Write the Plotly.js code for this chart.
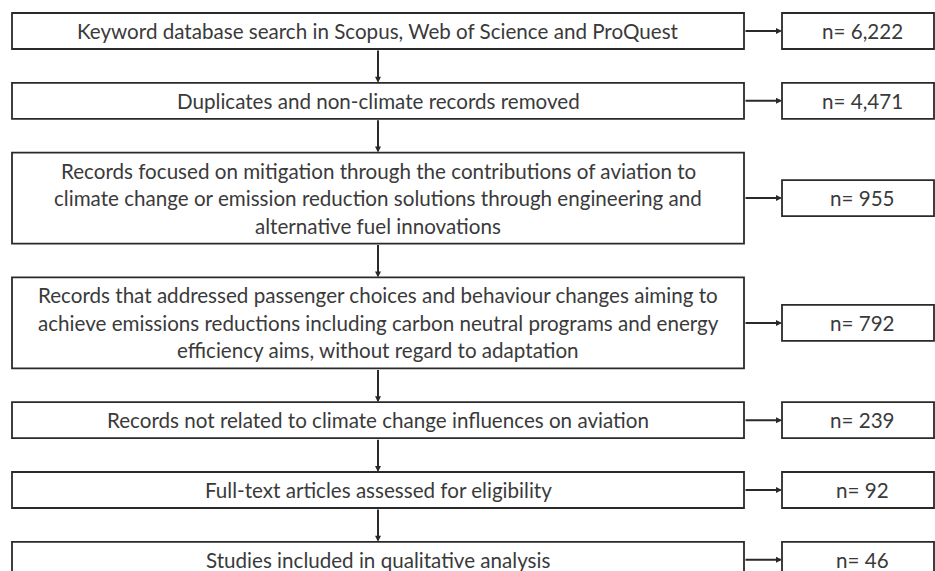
<!DOCTYPE html>
<html>
<head>
<meta charset="utf-8">
<script src="https://cdn.plot.ly/plotly-3.0.1.min.js"></script>
<style>html,body{margin:0;padding:0;background:#fff;}#chart{width:935px;height:571px;}</style>
</head>
<body>
<div id="chart"></div>
<script>
// ---- data ----
const stepLines = [
  ["Keyword database search in Scopus, Web of Science and ProQuest"],
  ["Duplicates and non-climate records removed"],
  ["Records focused on mitigation through the contributions of aviation to",
   "climate change or emission reduction solutions through engineering and",
   "alternative fuel innovations"],
  ["Records that addressed passenger choices and behaviour changes aiming to",
   "achieve emissions reductions including carbon neutral programs and energy",
   "efficiency aims, without regard to adaptation"],
  ["Records not related to climate change influences on aviation"],
  ["Full-text articles assessed for eligibility"],
  ["Studies included in qualitative analysis"]
];
const counts = [6222, 4471, 955, 792, 239, 92, 46];
const countLabels = ["n= 6,222", "n= 4,471", "n= 955", "n= 792", "n= 239", "n= 92", "n= 46"];

// ---- layout geometry ----
const W = 935, H = 571;
const leftX0 = 12, leftX1 = 744, rightX0 = 782, rightX1 = 934;
const top0 = 13, gap = 33.8, lineH = 27.5, oneLineH = 36, rightH = 36;
const FONT = "Lato, 'Open Sans', sans-serif";
const FS = 20.6;
const TXT = "#3a3a3a", EDGE = "#2a2a2a";

const shapes = [], annotations = [];
let y = top0;
const cx = (leftX0 + leftX1) / 2, rcx = (rightX0 + rightX1) / 2 + 4;
stepLines.forEach((lines, i) => {
  const h = oneLineH + (lines.length - 1) * lineH;
  const y0 = y, y1 = y + h, cy = (y0 + y1) / 2;
  shapes.push({type: "rect", xref: "x", yref: "y", x0: leftX0, x1: leftX1, y0: y0, y1: y1,
               line: {color: EDGE, width: 1.8}, fillcolor: "rgba(0,0,0,0)"});
  lines.forEach((t, k) => {
    annotations.push({x: cx, y: cy + (k - (lines.length - 1) / 2) * lineH, xref: "x", yref: "y",
      text: t, showarrow: false, xanchor: "center", yanchor: "middle",
      font: {family: FONT, size: FS, color: TXT}});
  });
  // right count box
  shapes.push({type: "rect", xref: "x", yref: "y", x0: rightX0, x1: rightX1,
               y0: cy - rightH / 2, y1: cy + rightH / 2,
               line: {color: EDGE, width: 1.8}, fillcolor: "rgba(0,0,0,0)"});
  annotations.push({x: rcx, y: cy, xref: "x", yref: "y", text: countLabels[i], showarrow: false,
    xanchor: "center", yanchor: "middle", font: {family: FONT, size: FS, color: TXT}});
  // horizontal arrow
  annotations.push({x: rightX0, y: cy, ax: leftX1, ay: cy, xref: "x", yref: "y", axref: "x", ayref: "y",
    text: "", showarrow: true, arrowhead: 2, arrowsize: 0.6, arrowwidth: 2, arrowcolor: EDGE, standoff: 0});
  // vertical arrow to next box
  if (i < stepLines.length - 1) {
    annotations.push({x: cx, y: y1 + gap, ax: cx, ay: y1, xref: "x", yref: "y", axref: "x", ayref: "y",
      text: "", showarrow: true, arrowhead: 2, arrowsize: 0.6, arrowwidth: 2, arrowcolor: EDGE, standoff: 0});
  }
  y = y1 + gap;
});

const layout = {
  width: W, height: H, margin: {l: 0, r: 0, t: 0, b: 0},
  paper_bgcolor: "#fff", plot_bgcolor: "#fff", showlegend: false,
  xaxis: {range: [0, W], visible: false, fixedrange: true},
  yaxis: {range: [H, 0], visible: false, fixedrange: true},
  shapes: shapes, annotations: annotations
};
Plotly.newPlot("chart", [{x: [], y: [], type: "scatter", mode: "markers", customdata: counts}], layout,
  {displayModeBar: false, staticPlot: true});
</script>
</body>
</html>
